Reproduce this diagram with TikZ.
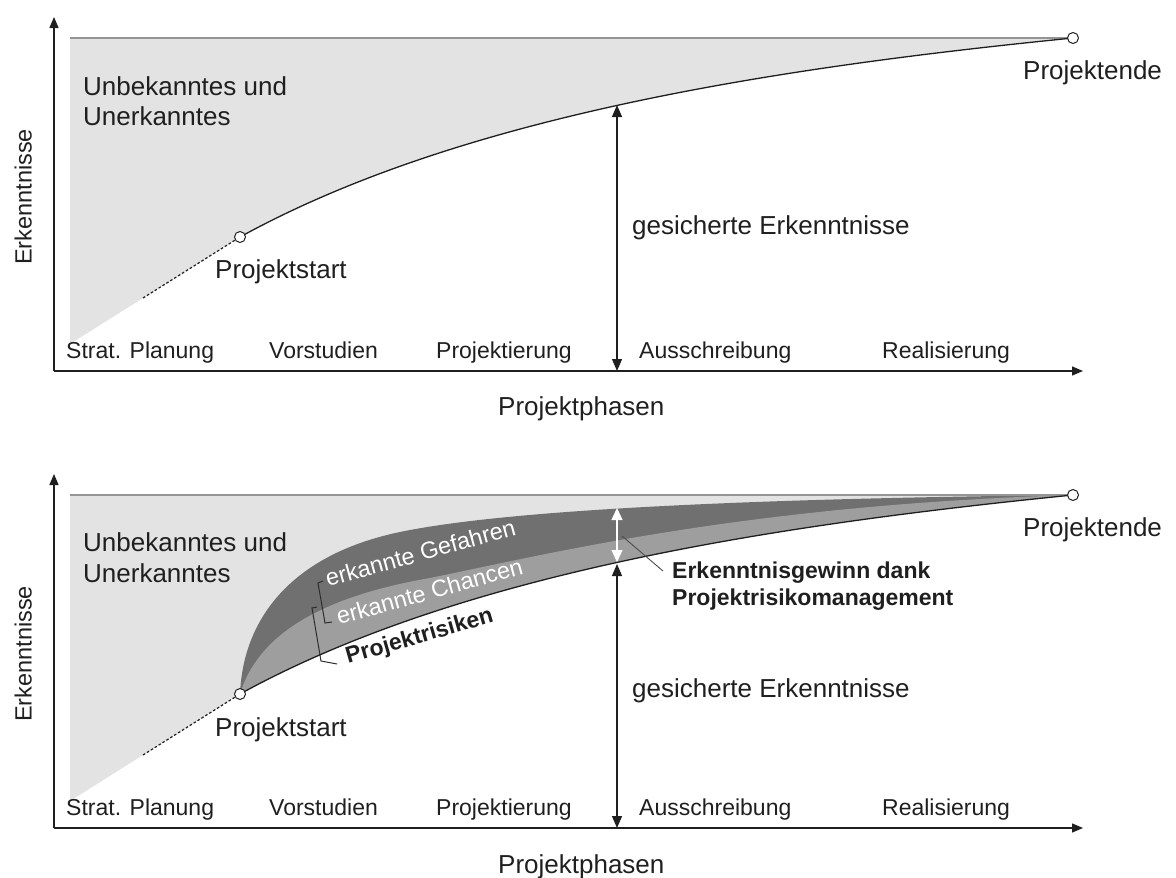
\documentclass[tikz,border=0pt]{standalone}
\usepackage{fontspec}
\setmainfont{Liberation Sans}
\usetikzlibrary{arrows.meta}

\definecolor{unknownfill}{gray}{0.89}
\definecolor{dangerband}{gray}{0.44}
\definecolor{chanceband}{gray}{0.62}
\definecolor{ink}{gray}{0.12}
\definecolor{rimline}{gray}{0.58}

\tikzset{
  axisline/.style={draw=ink, line width=1.3pt, -{Triangle[width=9pt,length=11pt]}},
  knowline/.style={draw=ink, line width=1.3pt},
  rimstyle/.style={draw=rimline, line width=1.2pt},
  prehist/.style={draw=ink, line width=1.2pt, dash pattern=on 2.6pt off 2pt},
  spanarrow/.style={draw=ink, line width=1.3pt,
    {Triangle[width=10pt,length=12pt]}-{Triangle[width=10pt,length=12pt]}},
  gainarrow/.style={draw=white, line width=1.3pt,
    {Triangle[width=11pt,length=12pt]}-{Triangle[width=11pt,length=12pt]}},
  milestone/.style={circle, draw=ink, fill=white, line width=1pt, minimum size=11pt, inner sep=0pt},
  bigtext/.style={font=\fontsize{26}{30}\selectfont, text=ink, inner sep=0pt, anchor=base west},
  phasetext/.style={font=\fontsize{23}{27}\selectfont, text=ink, inner sep=0pt, anchor=base west},
  axistext/.style={font=\fontsize{23.5}{28}\selectfont, text=ink, inner sep=0pt, anchor=base west, rotate=90},
  bandtext/.style={font=\fontsize{23.5}{28}\selectfont, text=white, inner sep=0pt, anchor=base west, rotate=15.5},
  boldtext/.style={font=\bfseries\fontsize{23}{27}\selectfont, text=ink, inner sep=0pt, anchor=base west},
  bracket/.style={draw=gray!35!black, line width=1pt},
  leader/.style={draw=gray!60!black, line width=0.9pt},
}

\begin{document}
\begin{tikzpicture}[x=1pt,y=-1pt]
\useasboundingbox (0,0) rectangle (1176,878);

% ---------------- upper chart ----------------
\coordinate (O1) at (54,371);
\coordinate (Y1) at (54,17);
\coordinate (X1) at (1083,371);
\coordinate (S1) at (240,237);
\coordinate (E1) at (1073,38);
\coordinate (TL1) at (70,38);
\coordinate (BL1) at (70,344);
\coordinate (D1) at (143,298);
\coordinate (A1) at (617,105);
\coordinate (B1) at (617,371);

\fill[unknownfill] (TL1) -- (E1) .. controls (773,68) and (460,116) .. (S1) -- (BL1) -- cycle;
\draw[rimstyle] (TL1) -- (E1);
\draw[knowline] (S1) .. controls (460,116) and (773,68) .. (E1);
\draw[prehist] (D1) -- (S1);
\draw[axisline] (O1) -- (Y1);
\draw[axisline] (O1) -- (X1);
\draw[spanarrow] (A1) -- (B1);
\node[milestone] (start1) at (S1) {};
\node[milestone] (end1) at (E1) {};

\node[bigtext] (unkA1) at (83,95) {Unbekanntes und};
\node[bigtext] (unkB1) at (83,125) {Unerkanntes};
\node[bigtext] (startlbl1) at (215,278) {Projektstart};
\node[bigtext] (endlbl1) at (1023,79) {Projektende};
\node[bigtext] (safe1) at (632,234) {gesicherte Erkenntnisse};
\node[phasetext] (ph1a) at (66,358) {Strat. Planung};
\node[phasetext] (ph1b) at (269,358) {Vorstudien};
\node[phasetext] (ph1c) at (436,358) {Projektierung};
\node[phasetext] (ph1d) at (639,358) {Ausschreibung};
\node[phasetext] (ph1e) at (882,358) {Realisierung};
\node[bigtext] (xlbl1) at (498,415) {Projektphasen};
\node[axistext] (ylbl1) at (31.5,265) {Erkenntnisse};

% ---------------- lower chart ----------------
\coordinate (O2) at (54,828);
\coordinate (Y2) at (54,474);
\coordinate (X2) at (1083,828);
\coordinate (S2) at (240,694);
\coordinate (E2) at (1073,495);
\coordinate (TL2) at (70,495);
\coordinate (BL2) at (70,801);
\coordinate (D2) at (143,755);
\coordinate (A2) at (617,564);
\coordinate (B2) at (617,828);
\coordinate (W1) at (617,508);
\coordinate (W2) at (617,562);
\coordinate (G1) at (622,536);
\coordinate (G2) at (663,571);

\fill[unknownfill] (TL2) -- (E2) .. controls (773,525) and (460,573) .. (S2) -- (BL2) -- cycle;
% identified dangers: upper band
\fill[dangerband] (S2) .. controls (243,620) and (290,555) .. (400,532)
  .. controls (520,507) and (800,498) .. (E2)
  .. controls (773,525) and (460,573) .. (S2) -- cycle;
% identified chances: lower band
\fill[chanceband] (S2) .. controls (258,635) and (320,597) .. (430,578)
  .. controls (540,556) and (740,505) .. (E2)
  .. controls (773,525) and (460,573) .. (S2) -- cycle;
\draw[rimstyle] (TL2) -- (E2);
\draw[knowline] (S2) .. controls (460,573) and (773,525) .. (E2);
\draw[prehist] (D2) -- (S2);
\draw[axisline] (O2) -- (Y2);
\draw[axisline] (O2) -- (X2);
\draw[spanarrow] (A2) -- (B2);
\draw[gainarrow] (W1) -- (W2);
\draw[leader] (G1) -- (G2);

% brackets grouping the bands
\draw[bracket] (323,581) -- (318,583) -- (325,623) -- (332,622);
\draw[bracket] (317,607) -- (312,608) -- (321,661) -- (337,664);

\node[milestone] (start2) at (S2) {};
\node[milestone] (end2) at (E2) {};

\node[bandtext] (danger) at (328,587) {erkannte Gefahren};
\node[bandtext] (chance) at (339,625) {erkannte Chancen};
\node[boldtext, rotate=16] (risks) at (348,664) {Projektrisiken};
\node[boldtext] (gainA) at (672,578) {Erkenntnisgewinn dank};
\node[boldtext] (gainB) at (672,605) {Projektrisikomanagement};

\node[bigtext] (unkA2) at (83,551) {Unbekanntes und};
\node[bigtext] (unkB2) at (83,582) {Unerkanntes};
\node[bigtext] (startlbl2) at (215,736) {Projektstart};
\node[bigtext] (endlbl2) at (1023,536) {Projektende};
\node[bigtext] (safe2) at (632,697) {gesicherte Erkenntnisse};
\node[phasetext] (ph2a) at (66,815) {Strat. Planung};
\node[phasetext] (ph2b) at (269,815) {Vorstudien};
\node[phasetext] (ph2c) at (436,815) {Projektierung};
\node[phasetext] (ph2d) at (639,815) {Ausschreibung};
\node[phasetext] (ph2e) at (882,815) {Realisierung};
\node[bigtext] (xlbl2) at (498,873) {Projektphasen};
\node[axistext] (ylbl2) at (31.5,722) {Erkenntnisse};
\end{tikzpicture}
\end{document}
